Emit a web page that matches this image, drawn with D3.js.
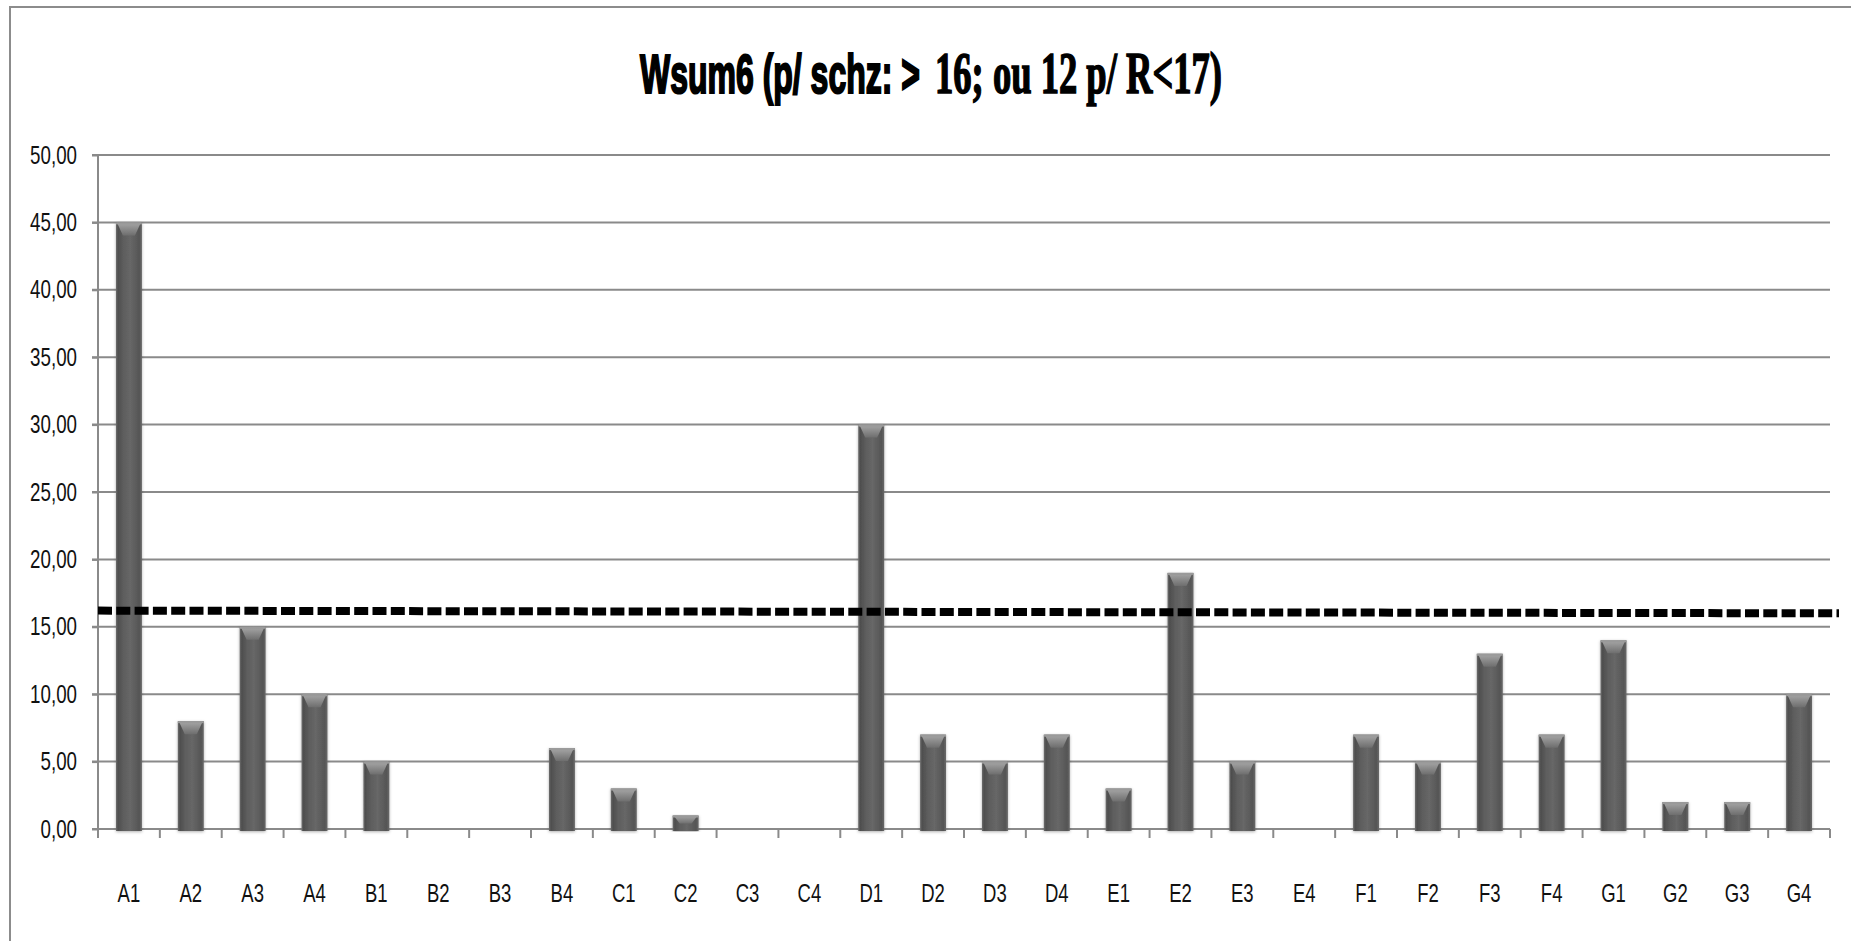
<!DOCTYPE html>
<html>
<head>
<meta charset="utf-8">
<script src="https://cdn.jsdelivr.net/npm/d3@7"></script>
<style>
  body { margin: 0; background: #fff; }
  svg { display: block; }
</style>
</head>
<body>
<div class="vis-bars"></div>
<script>
// data
var categories = ["A1","A2","A3","A4","B1","B2","B3","B4","C1","C2","C3","C4",
                  "D1","D2","D3","D4","E1","E2","E3","E4","F1","F2","F3","F4",
                  "G1","G2","G3","G4"];
var values = [45, 8, 15, 10, 5, 0, 0, 6, 3, 1, 0, 0,
              30, 7, 5, 7, 3, 19, 5, 0, 7, 5, 13, 7,
              14, 2, 2, 10];
var yTicks = [0, 5, 10, 15, 20, 25, 30, 35, 40, 45, 50];
// hand drawn dashed cut-off line, value at left end and at right end
var threshold = [16.2, 16.0];
var titleSans = "Wsum6 (p/ schz: >";
var titleSerif = "16; ou 12 p/ R<17)";

var width = 1851, height = 941;
var margin = {top: 155, right: 21, bottom: 112, left: 98};

var svg = d3.select(".vis-bars")
  .append("svg")
    .attr("width", width)
    .attr("height", height);

svg.append("rect").attr("width", width).attr("height", height).attr("fill", "#fff");

// outer frame (only top and left edges show)
svg.append("rect")
  .attr("x", 10).attr("y", 7)
  .attr("width", width + 20).attr("height", height + 20)
  .attr("fill", "none")
  .attr("stroke", "#8c8c8c")
  .attr("stroke-width", 2);

var defs = svg.append("defs");
var grad = defs.append("linearGradient").attr("id", "barGrad")
  .attr("x1", "0%").attr("x2", "100%").attr("y1", "0%").attr("y2", "0%");
[["0%", "#6e6e6e"], ["8%", "#4e4e4e"], ["30%", "#5e5e5e"], ["55%", "#676767"], ["90%", "#555"], ["100%", "#6a6a6a"]]
  .forEach(function (s) { grad.append("stop").attr("offset", s[0]).attr("stop-color", s[1]); });
var capGrad = defs.append("linearGradient").attr("id", "capGrad")
  .attr("x1", "0%").attr("x2", "0%").attr("y1", "0%").attr("y2", "100%");
[["0%", "#a8a8a8"], ["100%", "#6e6e6e"]]
  .forEach(function (s) { capGrad.append("stop").attr("offset", s[0]).attr("stop-color", s[1]); });
var shadow = defs.append("filter").attr("id", "shadow")
  .attr("x", "-30%").attr("y", "-5%").attr("width", "160%").attr("height", "110%");
shadow.append("feDropShadow").attr("dx", 0).attr("dy", 1)
  .attr("stdDeviation", 1.8).attr("flood-color", "#000").attr("flood-opacity", 0.3);

var x = d3.scaleBand()
  .domain(categories)
  .range([margin.left, width - margin.right]);
var barPad = 0.29, barW = x.bandwidth() * 0.42;

var y = d3.scaleLinear()
  .domain([0, 50])
  .range([height - margin.bottom, margin.top]);

var fmt = function (d) { return d3.format(".2f")(d).replace(".", ","); };
var labelFont = "'Liberation Sans', Arial, sans-serif";

// squeeze text horizontally, like the narrow font in the original
function squeeze(sel, k) {
  sel.each(function () {
    var w = this.getComputedTextLength();
    d3.select(this).attr("textLength", w * k).attr("lengthAdjust", "spacingAndGlyphs");
  });
}

// gridlines
svg.append("g")
  .selectAll("line")
  .data(yTicks.filter(function (d) { return d > 0; }))
  .enter().append("line")
    .attr("x1", margin.left - 6)
    .attr("x2", width - margin.right)
    .attr("y1", function (d) { return y(d); })
    .attr("y2", function (d) { return y(d); })
    .attr("stroke", "#8a8a8a")
    .attr("stroke-width", 2);

// y axis
var yAxis = svg.append("g")
  .attr("transform", "translate(" + margin.left + ",0)")
  .call(d3.axisLeft(y).tickValues(yTicks).tickSize(6).tickPadding(15).tickFormat(fmt));
yAxis.selectAll("line, path").attr("stroke", "#8a8a8a").attr("stroke-width", 2);
yAxis.select(".domain").attr("d", "M0," + y(50) + "V" + y(0));
yAxis.selectAll("text")
  .attr("font-family", labelFont)
  .attr("font-size", 25)
  .attr("fill", "#111")
  .call(squeeze, 0.75);

// x axis baseline and tick marks at band edges
var xAxis = svg.append("g").attr("transform", "translate(0," + y(0) + ")");
xAxis.append("line")
  .attr("x1", margin.left - 6).attr("x2", width - margin.right)
  .attr("stroke", "#8a8a8a").attr("stroke-width", 2);
xAxis.selectAll(".xt")
  .data(categories.concat(["end"]))
  .enter().append("line")
    .attr("class", "xt")
    .attr("x1", function (d) { return d === "end" ? x.range()[1] : x(d); })
    .attr("x2", function (d) { return d === "end" ? x.range()[1] : x(d); })
    .attr("y1", 0).attr("y2", 9)
    .attr("stroke", "#8a8a8a").attr("stroke-width", 2);
xAxis.selectAll(".xl")
  .data(categories)
  .enter().append("text")
    .attr("class", "xl")
    .attr("x", function (d) { return x(d) + x.bandwidth() / 2; })
    .attr("y", 73)
    .attr("text-anchor", "middle")
    .attr("font-family", labelFont)
    .attr("font-size", 25)
    .attr("fill", "#111")
    .text(function (d) { return d; })
    .call(squeeze, 0.74);

// bars
var data = categories.map(function (c, i) { return {cat: c, val: values[i]}; })
  .filter(function (d) { return d.val > 0; });

var bars = svg.append("g").selectAll("g")
  .data(data)
  .enter().append("g")
    .attr("filter", "url(#shadow)");

bars.append("rect")
  .attr("x", function (d) { return x(d.cat) + x.bandwidth() * barPad; })
  .attr("y", function (d) { return y(d.val); })
  .attr("width", barW)
  .attr("height", function (d) { return y(0) - y(d.val) + 2; })
  .style("fill", "url(#barGrad)");

bars.append("path")
  .attr("d", function (d) {
    var x0 = x(d.cat) + x.bandwidth() * barPad, x1 = x0 + barW, t = y(d.val);
    var h = Math.min(13, (y(0) - t) * 0.6);
    return "M" + (x0 + 1) + "," + t + "L" + (x1 - 1) + "," + t +
           "L" + (x1 - 7) + "," + (t + h) + "L" + (x0 + 7) + "," + (t + h) + "Z";
  })
  .style("fill", "url(#capGrad)");

bars.append("rect")
  .attr("x", function (d) { return x(d.cat) + x.bandwidth() * barPad; })
  .attr("y", function (d) { return y(d.val); })
  .attr("width", barW)
  .attr("height", 2)
  .style("fill", "#9a9a9a");

// dashed cut-off line
svg.append("line")
  .attr("x1", margin.left)
  .attr("x2", width - 12)
  .attr("y1", y(threshold[0]))
  .attr("y2", y(threshold[1]))
  .attr("stroke", "#000")
  .attr("stroke-width", 8)
  .attr("stroke-dasharray", "14,4.3");

// title: first half in a narrow sans, the rest in a bold serif,
// each squeezed with a horizontal scale to the width it has in the original
function titlePart(txt, family, size, x0, w, sw) {
  var t = svg.append("text")
    .attr("font-family", family)
    .attr("font-weight", "bold")
    .attr("font-size", size)
    .attr("fill", "#000")
    .attr("stroke", "#000")
    .attr("stroke-width", sw)
    .text(txt);
  var k = w / t.node().getComputedTextLength();
  t.attr("transform", "translate(" + x0 + ",93) scale(" + k + ",1)");
}
titlePart(titleSans, "'Liberation Sans', Arial, sans-serif", 55, 640, 280, 2.2);
titlePart(titleSerif, "'Liberation Serif', serif", 59, 935, 287, 1.6);
</script>
</body>
</html>
